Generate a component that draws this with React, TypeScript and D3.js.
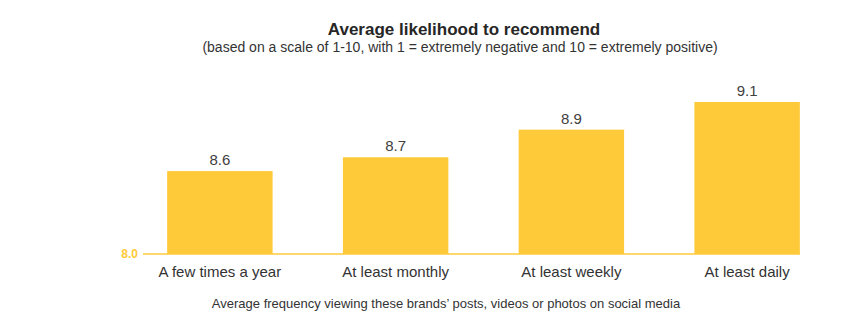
import React from "react";
import * as d3 from "d3";

const categories = ["A few times a year", "At least monthly", "At least weekly", "At least daily"];
const values = [8.6, 8.7, 8.9, 9.1];
const yBaseLabel = "8.0";
const title = "Average likelihood to recommend";
const subtitle = "(based on a scale of 1-10, with 1 = extremely negative and 10 = extremely positive)";
const xTitle = "Average frequency viewing these brands\u2019 posts, videos or photos on social media";

const W = 846;
const H = 324;
const YELLOW = "#FFCA3A";
const FONT = "'Liberation Sans', Arial, sans-serif";

export default function App() {
  const x = d3.scaleBand<string>().domain(categories).range([132, 835]).paddingInner(0.4).paddingOuter(0.2);
  const y = d3.scaleLinear().domain([8.0, 9.1]).range([254, 102]);
  return (
    <svg width={W} height={H} style={{ position: "absolute", left: 0, top: 0, background: "#fff" }} fontFamily={FONT}>
      <text x={464} y={35} textAnchor="middle" fontSize={17} fontWeight="bold" fill="#262626">{title}</text>
      <text x={460} y={52} textAnchor="middle" fontSize={14} fill="#333">{subtitle}</text>
      {categories.map((c, i) => (
        <g key={c}>
          <rect x={x(c)} y={y(values[i])} width={x.bandwidth()} height={y(8.0) - y(values[i])} fill={YELLOW} />
          <text x={(x(c) as number) + x.bandwidth() / 2} y={y(values[i]) - 6} textAnchor="middle" fontSize={15} fill="#404040">{values[i].toFixed(1)}</text>
          <text x={(x(c) as number) + x.bandwidth() / 2} y={277} textAnchor="middle" fontSize={15} fill="#333">{c}</text>
        </g>
      ))}
      <line x1={143} x2={800} y1={y(8.0)} y2={y(8.0)} stroke={YELLOW} strokeWidth={1.5} />
      <text x={138} y={258} textAnchor="end" fontSize={12} fontWeight="bold" fill={YELLOW}>{yBaseLabel}</text>
      <text x={446} y={308} textAnchor="middle" fontSize={13} fill="#333">{xTitle}</text>
    </svg>
  );
}
